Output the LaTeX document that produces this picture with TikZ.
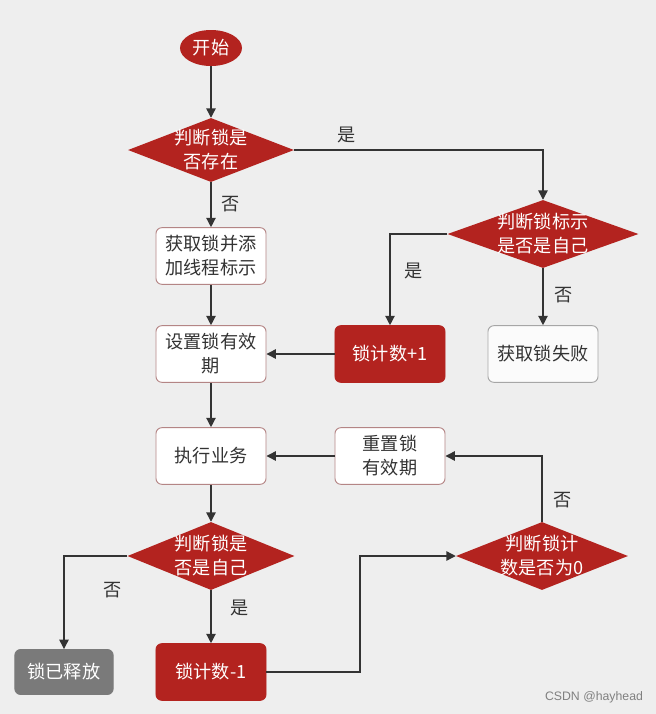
\documentclass[tikz,border=0pt]{standalone}
\usepackage{fontspec}
\setmainfont{Noto Sans CJK SC}
\newfontfamily\wmfont{Liberation Sans}
\usetikzlibrary{positioning}
\usetikzlibrary{shapes.geometric}
\usetikzlibrary{arrows.meta}

\definecolor{lockred}{HTML}{B3231F}
\definecolor{linegray}{HTML}{333333}
\definecolor{boxline}{HTML}{B48585}
\definecolor{bggray}{HTML}{EEEEEE}
\definecolor{donegray}{HTML}{7A7A7A}

\tikzset{
  flow/.style={draw=linegray, line width=1.1pt, -{Triangle[length=8pt,width=8pt]}},
  txt/.style={font=\fontsize{15.5}{20.5}\selectfont, align=center},
  stepbox/.style={txt, rectangle, rounded corners=5pt, draw=boxline, fill=white,
    text=linegray, line width=0.8pt, minimum width=3.3cm, minimum height=1.7cm},
  redbox/.style={stepbox, draw=lockred, fill=lockred, text=white},
  graybox/.style={stepbox, draw=donegray, fill=donegray, text=white,
    minimum width=2.95cm, minimum height=1.35cm},
  failbox/.style={stepbox, draw=gray!70, fill=white!97!gray},
  decide/.style={diamond, fill=lockred, inner sep=0pt},
  dtext/.style={txt, text=white},
  lbl/.style={txt, text=linegray},
}

\begin{document}
\begin{tikzpicture}[x=0.03cm, y=-0.03cm]
  \fill[bggray] (0,0) rectangle (656,714);
  \useasboundingbox (0,0) rectangle (656,714);

  \node[ellipse, fill=lockred, txt, text=white, minimum width=1.86cm, minimum height=1.08cm, inner sep=0pt]
    (start) at (211,48) {开始};

  \node[decide, minimum width=4.98cm, minimum height=1.92cm] (exist) at (211,150) {};
  \node[dtext] (exist-t) at (exist) {判断锁是\\否存在};

  \node[stepbox] (acquire) at (211,256) {获取锁并添\\加线程标示};
  \node[stepbox] (expire) at (211,354) {设置锁有效\\期};

  \node[decide, minimum width=5.73cm, minimum height=2.04cm] (self) at (543,234) {};
  \node[dtext] (self-t) at (self) {判断锁标示\\是否是自己};

  \node[redbox] (incr) at (390,354) {锁计数+1};
  \node[failbox] (fail) at (543,354) {获取锁失败};

  \node[stepbox] (work) at (211,456) {执行业务};
  \node[stepbox] (reset) at (390,456) {重置锁\\有效期};

  \node[decide, minimum width=5.01cm, minimum height=2.04cm] (mine) at (211,556) {};
  \node[dtext] (mine-t) at (mine) {判断锁是\\否是自己};

  \node[decide, minimum width=5.16cm, minimum height=2.04cm] (zero) at (542,556) {};
  \node[dtext] (zero-t) at (zero) {判断锁计\\数是否为0};

  \node[graybox] (released) at (64,672) {锁已释放};
  \node[redbox] (decr) at (211,672) {锁计数-1};

  \draw[flow] (start) -- (exist);
  \draw[flow] (exist.east) -| (self.north);
  \draw[flow] (exist) -- (acquire);
  \draw[flow] (acquire) -- (expire);
  \draw[flow] (self.west) -| (incr.north);
  \draw[flow] (self) -- (fail);
  \draw[flow] (incr) -- (expire);
  \draw[flow] (expire) -- (work);
  \draw[flow] (reset) -- (work);
  \draw[flow] (zero.north) |- (reset.east);
  \draw[flow] (work) -- (mine);
  \draw[flow] (mine.west) -| (released.north);
  \draw[flow] (mine) -- (decr);
  \draw[flow] (decr.east) -- (360,672) |- (zero.west);

  \node[lbl] (yes-exist) at (347,135) {是};
  \node[lbl] (no-exist) at (231,204) {否};
  \node[lbl] (yes-self) at (414,271) {是};
  \node[lbl] (no-self) at (564,295) {否};
  \node[lbl] (no-zero) at (563,500) {否};
  \node[lbl] (no-mine) at (113,590) {否};
  \node[lbl] (yes-mine) at (240,608) {是};

  \node[font=\wmfont\fontsize{10.5}{12}\selectfont, text=gray] (mark) at (594,697) {CSDN @hayhead};
\end{tikzpicture}
\end{document}
